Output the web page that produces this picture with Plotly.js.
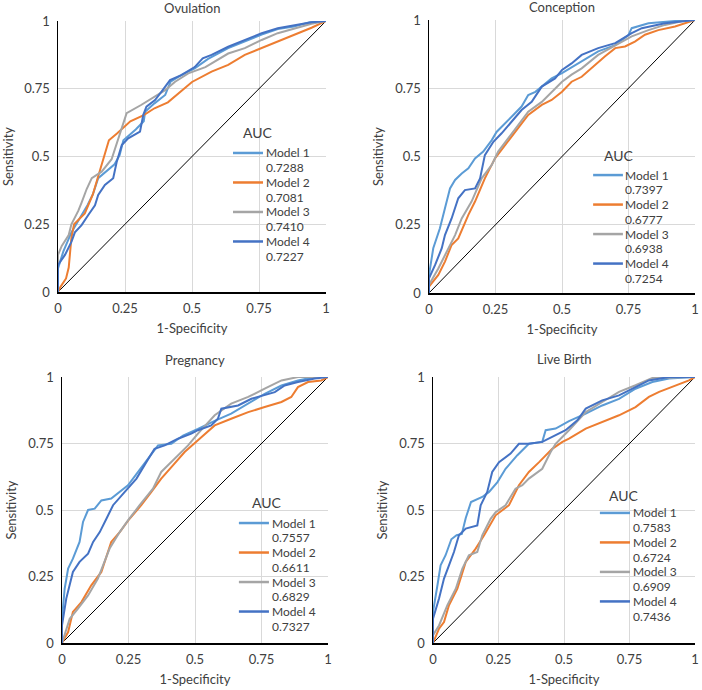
<!DOCTYPE html>
<html>
<head>
<meta charset="utf-8">
<script src="https://cdn.plot.ly/plotly-3.0.1.min.js"></script>
<style>html,body{margin:0;padding:0;background:#fff;}#chart{width:702px;height:690px;}</style>
</head>
<body>
<div id="chart"></div>
<script>
// ---------- data ----------
const panelTitles = ["Ovulation", "Conception", "Pregnancy", "Live Birth"];
const modelNames = ["Model 1", "Model 2", "Model 3", "Model 4"];
const tickVals = [0, 0.25, 0.5, 0.75, 1];
const tickText = ["0", "0.25", "0.5", "0.75", "1"];
const xTitle = "1-Specificity";
const yTitle = "Sensitivity";
const legendTitle = "AUC";

const aucOvulation  = ["0.7288", "0.7081", "0.7410", "0.7227"];
const aucConception = ["0.7397", "0.6777", "0.6938", "0.7254"];
const aucPregnancy  = ["0.7557", "0.6611", "0.6829", "0.7327"];
const aucLiveBirth  = ["0.7583", "0.6724", "0.6909", "0.7436"];

// Ovulation
const ovuM1x = [0,0,0.02,0.05,0.08,0.11,0.13,0.15,0.21,0.23,0.244,0.29,0.32,0.325,0.36,0.4,0.42,0.46,0.51,0.56,0.635,0.7,0.76,0.82,0.88,0.94,1];
const ovuM1y = [0,0.087,0.15,0.22,0.27,0.32,0.36,0.42,0.47,0.505,0.56,0.6,0.63,0.665,0.696,0.727,0.776,0.8,0.825,0.86,0.9,0.925,0.95,0.97,0.98,0.995,1];
const ovuM2x = [0,0.01,0.03,0.04,0.05,0.06,0.1,0.13,0.16,0.19,0.22,0.27,0.32,0.36,0.41,0.46,0.5,0.573,0.635,0.697,0.76,0.82,0.884,0.946,1];
const ovuM2y = [0,0.02,0.05,0.09,0.2,0.25,0.29,0.36,0.46,0.56,0.585,0.63,0.653,0.678,0.7,0.74,0.775,0.813,0.838,0.875,0.9,0.924,0.95,0.975,1];
const ovuM3x = [0,0,0.014,0.04,0.05,0.076,0.088,0.107,0.126,0.163,0.2,0.225,0.256,0.31,0.36,0.4,0.437,0.486,0.55,0.635,0.697,0.76,0.82,0.884,0.946,1];
const ovuM3y = [0,0.137,0.17,0.21,0.25,0.3,0.33,0.38,0.42,0.444,0.49,0.567,0.66,0.69,0.72,0.745,0.776,0.807,0.83,0.88,0.9,0.93,0.955,0.973,0.99,1];
const ovuM4x = [0,0,0.026,0.05,0.063,0.088,0.113,0.138,0.15,0.175,0.206,0.219,0.238,0.262,0.306,0.318,0.33,0.362,0.387,0.418,0.46,0.51,0.54,0.573,0.635,0.697,0.76,0.82,0.884,0.946,1];
const ovuM4y = [0,0.1,0.137,0.185,0.22,0.247,0.284,0.32,0.358,0.395,0.42,0.48,0.542,0.567,0.592,0.653,0.684,0.708,0.74,0.782,0.8,0.83,0.862,0.875,0.905,0.93,0.955,0.973,0.985,0.995,1];

// Conception
const conM1x = [0,0,0.016,0.029,0.041,0.06,0.079,0.098,0.123,0.148,0.173,0.204,0.236,0.254,0.286,0.317,0.348,0.373,0.4,0.43,0.461,0.5,0.55,0.636,0.7,0.75,0.762,0.825,0.925,1];
const conM1y = [0,0.066,0.164,0.2,0.237,0.31,0.383,0.414,0.438,0.457,0.493,0.518,0.56,0.59,0.62,0.652,0.683,0.725,0.737,0.762,0.786,0.805,0.835,0.885,0.908,0.945,0.97,0.988,0.996,1];
const conM2x = [0,0,0.035,0.06,0.085,0.11,0.148,0.173,0.21,0.248,0.286,0.336,0.373,0.424,0.461,0.5,0.536,0.574,0.611,0.662,0.7,0.737,0.774,0.812,0.862,0.925,1];
const conM2y = [0,0.023,0.066,0.115,0.176,0.2,0.286,0.335,0.42,0.493,0.542,0.603,0.652,0.689,0.707,0.737,0.774,0.792,0.824,0.867,0.897,0.903,0.921,0.946,0.963,0.976,1];
const conM3x = [0,0,0.035,0.073,0.098,0.123,0.16,0.198,0.236,0.26,0.298,0.336,0.373,0.424,0.461,0.5,0.536,0.574,0.636,0.7,0.762,0.825,0.887,0.95,1];
const conM3y = [0,0.03,0.09,0.164,0.212,0.273,0.335,0.42,0.469,0.518,0.567,0.615,0.664,0.7,0.737,0.774,0.8,0.823,0.872,0.908,0.94,0.963,0.982,0.995,1];
const conM4x = [0,0,0.023,0.048,0.06,0.085,0.11,0.135,0.173,0.192,0.21,0.242,0.273,0.31,0.348,0.386,0.424,0.474,0.5,0.536,0.574,0.636,0.7,0.762,0.8,0.887,0.99,1];
const conM4y = [0,0.054,0.103,0.164,0.212,0.273,0.347,0.377,0.383,0.42,0.505,0.554,0.585,0.628,0.67,0.7,0.756,0.786,0.817,0.841,0.872,0.897,0.915,0.952,0.97,0.988,1,1];

// Pregnancy
const preM1x = [0,0,0.01,0.023,0.041,0.066,0.079,0.098,0.123,0.148,0.185,0.217,0.248,0.286,0.323,0.361,0.411,0.455,0.511,0.542,0.574,0.636,0.7,0.762,0.825,0.887,0.95,1];
const preM1y = [0,0.09,0.204,0.28,0.317,0.38,0.455,0.5,0.505,0.536,0.543,0.568,0.593,0.643,0.693,0.743,0.749,0.78,0.805,0.82,0.835,0.862,0.9,0.937,0.968,0.987,1,1];
const preM2x = [0,0.023,0.041,0.073,0.11,0.148,0.185,0.217,0.254,0.298,0.336,0.373,0.417,0.461,0.511,0.574,0.636,0.7,0.762,0.825,0.862,0.887,0.925,0.975,1];
const preM2y = [0,0.041,0.117,0.154,0.217,0.267,0.38,0.417,0.467,0.518,0.568,0.618,0.668,0.718,0.762,0.818,0.843,0.868,0.887,0.906,0.925,0.962,0.981,0.987,1];
const preM3x = [0,0.01,0.029,0.06,0.098,0.135,0.179,0.217,0.248,0.292,0.342,0.373,0.424,0.474,0.511,0.574,0.636,0.7,0.762,0.825,0.887,1];
const preM3y = [0,0.029,0.091,0.129,0.179,0.242,0.355,0.417,0.461,0.518,0.58,0.643,0.693,0.743,0.787,0.856,0.9,0.925,0.956,0.987,1,1];
const preM4x = [0,0,0.016,0.041,0.066,0.098,0.117,0.142,0.167,0.192,0.236,0.28,0.317,0.348,0.386,0.436,0.486,0.511,0.561,0.586,0.599,0.662,0.712,0.762,0.8,0.837,0.887,0.95,1];
const preM4y = [0,0.066,0.167,0.267,0.305,0.336,0.38,0.417,0.467,0.518,0.568,0.618,0.68,0.73,0.743,0.768,0.787,0.8,0.818,0.843,0.881,0.893,0.918,0.931,0.943,0.968,0.981,0.994,1];

// Live Birth
const livM1x = [0,0,0.017,0.029,0.048,0.07,0.09,0.11,0.125,0.145,0.188,0.214,0.246,0.277,0.322,0.366,0.417,0.43,0.468,0.519,0.583,0.646,0.71,0.773,0.837,0.901,1];
const livM1y = [0,0.117,0.217,0.292,0.33,0.39,0.405,0.41,0.47,0.53,0.549,0.568,0.605,0.655,0.706,0.749,0.756,0.8,0.806,0.834,0.862,0.893,0.918,0.956,0.981,0.994,1];
const livM2x = [0,0.023,0.042,0.061,0.093,0.125,0.163,0.195,0.239,0.29,0.328,0.366,0.405,0.455,0.494,0.519,0.583,0.646,0.71,0.773,0.824,0.863,0.926,0.977,1];
const livM2y = [0,0.054,0.079,0.142,0.204,0.305,0.355,0.405,0.48,0.518,0.593,0.643,0.68,0.73,0.756,0.768,0.806,0.831,0.856,0.887,0.925,0.944,0.969,0.987,1];
const livM3x = [0,0,0.023,0.055,0.087,0.112,0.137,0.169,0.188,0.22,0.239,0.277,0.315,0.341,0.366,0.417,0.449,0.468,0.519,0.583,0.646,0.71,0.773,0.837,1];
const livM3y = [0,0.029,0.066,0.142,0.204,0.28,0.33,0.342,0.405,0.467,0.492,0.518,0.58,0.593,0.618,0.655,0.718,0.749,0.8,0.868,0.906,0.944,0.969,0.996,1];
const livM4x = [0,0,0.023,0.042,0.061,0.08,0.099,0.125,0.169,0.182,0.207,0.226,0.252,0.296,0.328,0.366,0.417,0.468,0.506,0.551,0.583,0.646,0.71,0.773,0.824,0.901,1];
const livM4y = [0,0.091,0.167,0.242,0.292,0.342,0.405,0.43,0.442,0.518,0.568,0.643,0.68,0.712,0.749,0.749,0.756,0.78,0.8,0.837,0.881,0.912,0.931,0.962,0.987,1,1];

const refLine = [0, 1];

// ---------- build ----------
const panels = [
  {curves: [[ovuM1x, ovuM1y], [ovuM2x, ovuM2y], [ovuM3x, ovuM3y], [ovuM4x, ovuM4y]], auc: aucOvulation},
  {curves: [[conM1x, conM1y], [conM2x, conM2y], [conM3x, conM3y], [conM4x, conM4y]], auc: aucConception},
  {curves: [[preM1x, preM1y], [preM2x, preM2y], [preM3x, preM3y], [preM4x, preM4y]], auc: aucPregnancy},
  {curves: [[livM1x, livM1y], [livM2x, livM2y], [livM3x, livM3y], [livM4x, livM4y]], auc: aucLiveBirth}
];

const colors = ["#5B9BD5", "#ED7D31", "#A5A5A5", "#4472C4"];
const W = 702, H = 690;
const FONT = "Lato, 'Open Sans', sans-serif";
const TXT = "#404040";

// plot-area layout (pixels) and legend placement (fractions of each plot area)
const boxes = [
  {l: 58,  r: 326, t: 21,  b: 292},
  {l: 429, r: 695, t: 20,  b: 293},
  {l: 62,  r: 328, t: 377, b: 643},
  {l: 433, r: 695, t: 377, b: 643}
];
const legendPos = [
  {lx0: 0.653, lx1: 0.765, tx: 0.772, ax: 0.687, ay: 0.59,  my: 0.513},
  {lx0: 0.617, lx1: 0.729, tx: 0.733, ax: 0.654, ay: 0.505, my: 0.432},
  {lx0: 0.665, lx1: 0.778, tx: 0.786, ax: 0.711, ay: 0.53,  my: 0.451},
  {lx0: 0.637, lx1: 0.752, tx: 0.760, ax: 0.668, ay: 0.556, my: 0.489}
];
const titleShift = [13, 13, 17, 18];
const ITEM_STEP = 29.5, VALUE_OFF = 14.8;

const traces = [];
const annotations = [];
const shapes = [];
const layout = {
  width: W, height: H,
  margin: {l: 0, r: 0, t: 0, b: 0},
  paper_bgcolor: "#fff", plot_bgcolor: "#fff",
  showlegend: false,
  font: {family: FONT, size: 13, color: TXT}
};

panels.forEach((p, k) => {
  const sfx = k === 0 ? "" : String(k + 1);
  const xa = "x" + sfx, ya = "y" + sfx;
  const bx = boxes[k];
  const axCommon = {
    range: [0, 1], tickvals: tickVals, ticktext: tickText,
    showgrid: true, gridcolor: "#d9d9d9", gridwidth: 1,
    zeroline: false, showline: true, linecolor: "#000", linewidth: 1.5,
    ticks: "", tickfont: {family: FONT, size: 13, color: TXT},
    fixedrange: true
  };
  layout["xaxis" + sfx] = Object.assign({}, axCommon, {
    domain: [bx.l / W, bx.r / W], anchor: ya,
    ticklabelstandoff: 4,
    title: {text: xTitle, font: {family: FONT, size: 13, color: TXT}, standoff: 9}
  });
  layout["yaxis" + sfx] = Object.assign({}, axCommon, {
    domain: [1 - bx.b / H, 1 - bx.t / H], anchor: xa,
    ticklabelstandoff: 4,
    title: {text: yTitle, font: {family: FONT, size: 13, color: TXT}, standoff: 8}
  });

  // diagonal reference
  traces.push({x: refLine, y: refLine, xaxis: xa, yaxis: ya, mode: "lines",
    line: {color: "#000", width: 1}, hoverinfo: "skip"});
  // ROC curves
  p.curves.forEach((c, i) => {
    traces.push({x: c[0], y: c[1], xaxis: xa, yaxis: ya, mode: "lines",
      name: modelNames[i], line: {color: colors[i], width: 2}});
  });

  // panel title
  annotations.push({text: panelTitles[k], xref: xa + " domain", yref: ya + " domain",
    x: 0.5, y: 1, yanchor: "middle", yshift: titleShift[k], showarrow: false,
    font: {family: FONT, size: 13, color: TXT}});

  // legend (AUC)
  const lp = legendPos[k];
  const hPx = bx.b - bx.t;
  const step = ITEM_STEP / hPx, valOff = VALUE_OFF / hPx;
  annotations.push({text: legendTitle, xref: xa + " domain", yref: ya + " domain",
    x: lp.ax, y: lp.ay, xanchor: "left", yanchor: "middle", showarrow: false,
    borderpad: 0, font: {family: FONT, size: 14, color: TXT}});
  modelNames.forEach((m, i) => {
    const yy = lp.my - i * step;
    shapes.push({type: "line", xref: xa + " domain", yref: ya + " domain",
      x0: lp.lx0, x1: lp.lx1, y0: yy, y1: yy, line: {color: colors[i], width: 2.5}});
    annotations.push({text: m, xref: xa + " domain", yref: ya + " domain",
      x: lp.tx, y: yy, xanchor: "left", yanchor: "middle", showarrow: false,
      borderpad: 0, font: {family: FONT, size: 12, color: TXT}});
    annotations.push({text: p.auc[i], xref: xa + " domain", yref: ya + " domain",
      x: lp.tx, y: yy - valOff, xanchor: "left", yanchor: "middle", showarrow: false,
      borderpad: 0, font: {family: FONT, size: 12, color: TXT}});
  });
});

layout.annotations = annotations;
layout.shapes = shapes;

Plotly.newPlot("chart", traces, layout, {staticPlot: true, displayModeBar: false});
</script>
</body>
</html>
